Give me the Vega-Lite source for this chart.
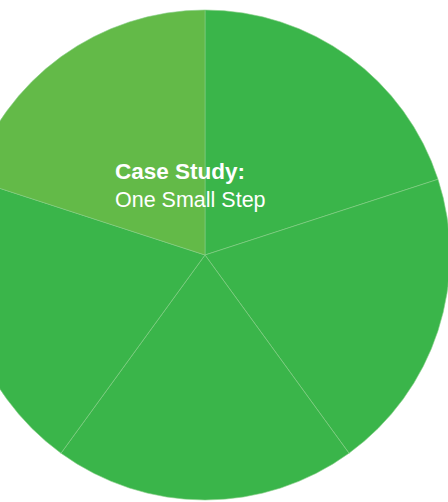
{
  "$schema": "https://vega.github.io/schema/vega-lite/v6.json",
  "autosize": "none",
  "width": 410,
  "height": 510,
  "padding": {"left": 0, "top": 0, "right": 38, "bottom": 0},
  "background": "white",
  "config": {"view": {"stroke": null}},
  "layer": [
    {
      "data": {"values": [
        {"segment": "Step 1", "i": 1, "value": 1},
        {"segment": "Step 2", "i": 2, "value": 1},
        {"segment": "Step 3", "i": 3, "value": 1},
        {"segment": "Step 4", "i": 4, "value": 1},
        {"segment": "One Small Step", "i": 5, "value": 1}
      ]},
      "mark": {"type": "arc", "radius": 245, "stroke": "#86cf86", "strokeWidth": 0.6},
      "encoding": {
        "theta": {"field": "value", "type": "quantitative", "stack": true},
        "order": {"field": "i", "type": "quantitative"},
        "color": {
          "field": "segment",
          "type": "nominal",
          "scale": {"domain": ["Step 1", "Step 2", "Step 3", "Step 4", "One Small Step"], "range": ["#3ab54a", "#3ab54a", "#3ab54a", "#3ab54a", "#63ba48"]},
          "legend": null
        }
      }
    },
    {
      "data": {"values": [{"label": "Case Study:"}]},
      "mark": {"type": "text", "align": "left", "baseline": "alphabetic", "dx": -90, "dy": -76, "font": "Liberation Sans", "fontSize": 22.5, "fontWeight": "bold", "color": "white"},
      "encoding": {"text": {"field": "label", "type": "nominal"}}
    },
    {
      "data": {"values": [{"label": "One Small Step"}]},
      "mark": {"type": "text", "align": "left", "baseline": "alphabetic", "dx": -90, "dy": -48, "font": "Liberation Sans", "fontSize": 21.5, "fontWeight": "normal", "color": "white"},
      "encoding": {"text": {"field": "label", "type": "nominal"}}
    }
  ]
}
